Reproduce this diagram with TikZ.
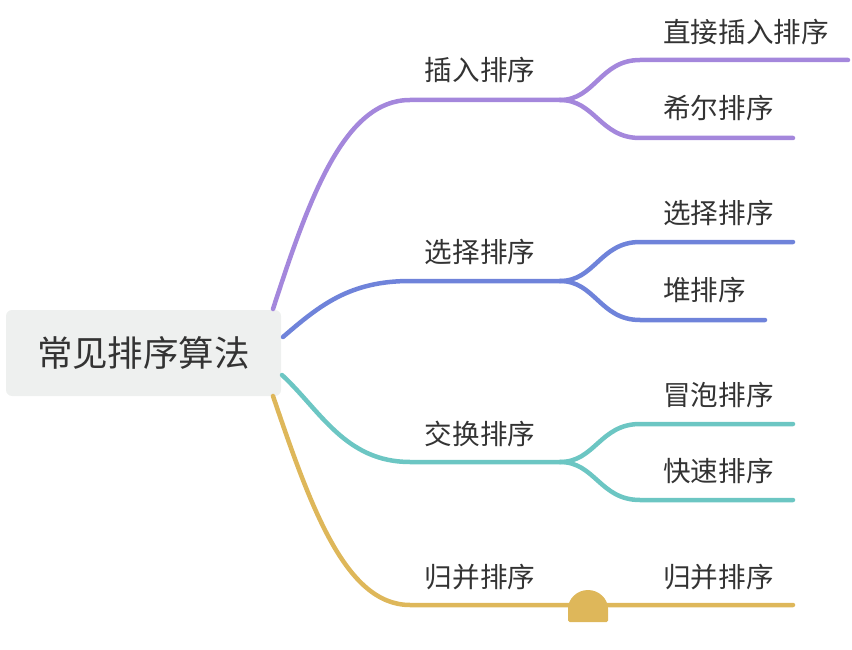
\documentclass[tikz,border=0pt]{standalone}
\usepackage{fontspec}
\setmainfont{Noto Sans CJK SC}
\usetikzlibrary{calc}
\definecolor{cpurple}{HTML}{A487DC}
\definecolor{cblue}{HTML}{6F83DA}
\definecolor{cteal}{HTML}{6CC6C3}
\definecolor{cgold}{HTML}{DEB75A}
\definecolor{rootbg}{HTML}{EEF0EF}
\definecolor{txt}{HTML}{333333}

\begin{document}
\begin{tikzpicture}[x=1pt,y=-1pt,
  branch/.style={line width=4.5pt,line cap=round},
  topic/.style={text=txt,font=\fontsize{27.6}{30}\selectfont,inner sep=0pt},
  leaf/.style={topic,anchor=west}]
\useasboundingbox (0,0) rectangle (852,650);

\node[fill=rootbg,rounded corners=6pt,minimum width=275pt,minimum height=86pt,
  text=txt,font=\fontsize{35.5}{40}\selectfont] (root) at (143.5,353) {常见排序算法};

% first level
\node[topic] (t1) at (480,70) {插入排序};
\node[topic] (t2) at (480,252) {选择排序};
\node[topic] (t3) at (480,434) {交换排序};
\node[topic] (t4) at (480,577) {归并排序};

\coordinate (s1) at (273,309);
\coordinate (s2) at (283,337);
\coordinate (s3) at (282,375);
\coordinate (s4) at (273,396);

\coordinate (j1) at (560,100);
\coordinate (j2) at (560,281);
\coordinate (j3) at (560,462);

\draw[branch,cpurple] (s1) .. controls (310,195) and (345,100) .. (410,100) -- (j1);
\draw[branch,cblue] (s2) .. controls (320,305) and (350,281) .. (410,281) -- (j2);
\draw[branch,cteal] (s3) .. controls (320,410) and (345,462) .. (410,462) -- (j3);

% second level
\node[leaf] (l1) at (663,32) {直接插入排序};
\node[leaf] (l2) at (663,108) {希尔排序};
\node[leaf] (l3) at (663,213) {选择排序};
\node[leaf] (l4) at (663,290) {堆排序};
\node[leaf] (l5) at (663,395) {冒泡排序};
\node[leaf] (l6) at (663,471) {快速排序};
\node[leaf] (l7) at (663,577) {归并排序};

\coordinate (e1) at (848,60);
\coordinate (e2) at (793,138);
\coordinate (e3) at (793,242);
\coordinate (e4) at (765,320);
\coordinate (e5) at (793,424);
\coordinate (e6) at (793,500);
\coordinate (e7) at (793,605);

\draw[branch,cpurple] (j1) .. controls (595,100) and (600,60) .. (640,60) -- (e1);
\draw[branch,cpurple] (j1) .. controls (595,100) and (600,138) .. (640,138) -- (e2);
\draw[branch,cblue] (j2) .. controls (595,281) and (600,242) .. (640,242) -- (e3);
\draw[branch,cblue] (j2) .. controls (595,281) and (600,320) .. (640,320) -- (e4);
\draw[branch,cteal] (j3) .. controls (595,462) and (600,424) .. (640,424) -- (e5);
\draw[branch,cteal] (j3) .. controls (595,462) and (600,500) .. (640,500) -- (e6);

\draw[branch,cgold] (s4) .. controls (310,505) and (345,605) .. (410,605) -- (e7);

% collapse bump
\fill[cgold,rounded corners=1.5pt] (568,622) -- (568,610) arc[start angle=180,end angle=360,radius=20] -- (608,622) -- cycle;

\end{tikzpicture}
\end{document}
